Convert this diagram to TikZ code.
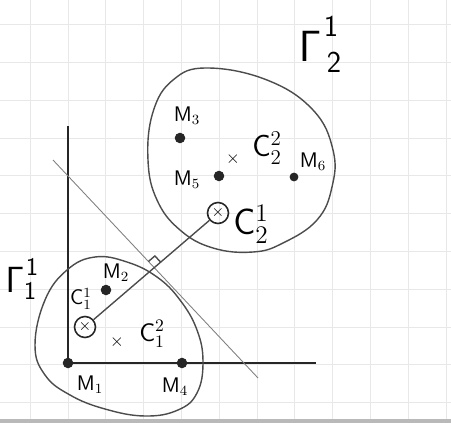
\documentclass[tikz,border=0pt]{standalone}
\usepackage{amsmath,amssymb}
\usepackage{tikz}
\usetikzlibrary{calc,positioning}

\begin{document}
\begin{tikzpicture}[
  x=0.02cm, y=-0.02cm,
  every node/.style={font=\large\sffamily},
  gridline/.style={gray!18, line width=0.4pt},
  axisline/.style={black!85, line width=1.3pt},
  setline/.style={black!70, line width=0.8pt},
  sepline/.style={black!50, line width=0.5pt},
  dotpt/.style={circle, fill=black!85, inner sep=0pt, minimum size=6pt},
  xmark/.style={inner sep=0pt, font=\normalsize},
  oxmark/.style={circle, draw=black!85, line width=0.9pt, inner sep=0pt,
                 minimum size=0.42cm, font=\small},
  lbl/.style={inner sep=1pt}
]
\useasboundingbox (0,0) rectangle (451,423);

%% ---- paper ----------------------------------------------------------
\foreach \gx in {0,...,11}
  \draw[gridline] (30.2+37.8*\gx,0) -- (30.2+37.8*\gx,419);
\foreach \gy in {0,...,10}
  \draw[gridline] (0,24.5+37.8*\gy) -- (451,24.5+37.8*\gy);
\fill[gray!55] (0,419) rectangle (451,423);

%% ---- axes -----------------------------------------------------------
\coordinate (ytop)  at (68,126);
\coordinate (xend)  at (316,363);
\node[dotpt] (m1) at (68,363) {};
\node[dotpt] (m4) at (182,363) {};
\draw[axisline] (ytop) -- (m1.center) -- (xend);
\node[lbl] (m1l) at (90,385) {$\mathsf{M}_1$};
\node[lbl] (m4l) at (175,387) {$\mathsf{M}_4$};

%% ---- sets -----------------------------------------------------------
\draw[setline] plot[smooth cycle, tension=0.7] coordinates {
  (35,345) (45,300) (67,270) (95,257) (127,262) (157,277) (180,300)
  (197,330) (203,362) (197,393) (178,410) (145,416) (105,409)
  (70,395) (45,375)};
\draw[setline] plot[smooth cycle, tension=0.7] coordinates {
  (148,160) (153,112) (173,80) (207,68) (267,80) (313,110) (333,150)
  (332,187) (317,220) (283,243) (253,252) (213,248) (180,230)
  (157,200)};

% set names
\node[font=\Huge\sffamily] (g2) at (310,46) {$\mathsf{\Gamma}$};
\node[font=\LARGE\sffamily] (g2s) at (331,26) {1};
\node[font=\LARGE\sffamily] (g2i) at (334,62) {2};
\node[font=\huge\sffamily] (g1) at (15,280) {$\mathsf{\Gamma}$};
\node[font=\Large\sffamily] (g1s) at (32,267) {1};
\node[font=\Large\sffamily] (g1i) at (30,291) {1};

%% ---- points in the first set ----------------------------------------
\node[oxmark] (c11) at (85,327) {$\times$};
\node[dotpt] (m2) at (106,290) {};
\node[xmark] (c12) at (117,342) {$\times$};
\node[lbl] (m2l) at (116,273) {$\mathsf{M}_2$};
\node[lbl] (c11l) at (81,299) {$\mathsf{C}_1^1$};
\node[lbl, font=\Large\sffamily] (c12l) at (152,334) {$\mathsf{C}_1^2$};

%% ---- points in the second set ---------------------------------------
\node[dotpt] (m3) at (180,138) {};
\node[dotpt] (m5) at (219,176) {};
\node[dotpt, minimum size=5pt] (m6) at (294,177) {};
\node[xmark] (c22) at (233,159) {$\times$};
\node[oxmark] (c21) at (218,213) {$\times$};
\node[lbl] (m3l) at (187,116) {$\mathsf{M}_3$};
\node[lbl] (m5l) at (187,180) {$\mathsf{M}_5$};
\node[lbl] (m6l) at (313,162) {$\mathsf{M}_6$};
\node[lbl, font=\LARGE\sffamily] (c22l) at (267,148) {$\mathsf{C}_2^2$};
\node[lbl, font=\huge\sffamily] (c21l) at (251,224) {$\mathsf{C}_2^1$};

%% ---- separating line ------------------------------------------------
\coordinate (d1) at (53,160);
\coordinate (d2) at (258,378);
\draw[sepline] (d1) -- (d2);
\draw[setline] (c11) -- (c21);

% right angle
\coordinate (ix) at (intersection of c11.center--c21.center and d1--d2);
\coordinate (ra) at ($(ix)!0.17cm!(c21.center)$);
\coordinate (rb) at ($(ix)!0.17cm!(d1)$);
\draw[setline] (ra) -- ($(ra)+(rb)-(ix)$) -- (rb);

\end{tikzpicture}
\end{document}
